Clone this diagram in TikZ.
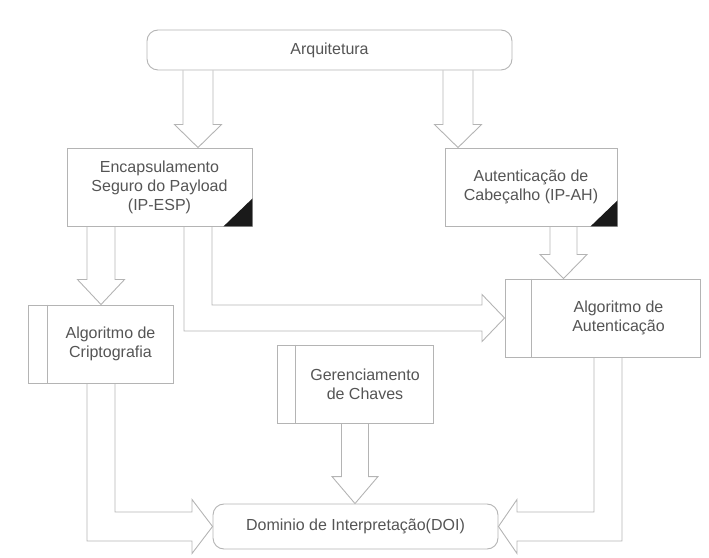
\documentclass[tikz,border=0pt]{standalone}
\usepackage{fontspec}
\setmainfont{Liberation Sans}
\usetikzlibrary{calc}
\definecolor{lineg}{HTML}{B4B4B4}
\definecolor{textg}{HTML}{555555}
\definecolor{cornerk}{HTML}{1A1A1A}
\newcommand\vblockarrow[6]{% src, dst, x centre, half shaft, half head, head length
  \draw[barrow] let \p1=(#1.south), \p2=(#2.north) in
    ({(#3-#4)*1pt},\y1) -- ({(#3-#4)*1pt},{\y2+#6*1pt}) -- ({(#3-#5)*1pt},{\y2+#6*1pt})
    -- ({#3*1pt},\y2) -- ({(#3+#5)*1pt},{\y2+#6*1pt}) -- ({(#3+#4)*1pt},{\y2+#6*1pt})
    -- ({(#3+#4)*1pt},\y1);}
\begin{document}
\begin{tikzpicture}[x=1pt,y=1pt,
  box/.style={draw=lineg,line width=0.9pt,fill=white,inner sep=0pt},
  rbox/.style={box,rounded corners=11pt},
  txt/.style={text=textg,font=\fontsize{16}{19}\selectfont,align=center,inner sep=0pt},
  barrow/.style={draw=lineg,line width=0.9pt,line join=miter}]
\useasboundingbox (0,0) rectangle (709,557);
% boxes
\node[rbox,minimum width=365pt,minimum height=40pt] (arq) at (329.5,507) {};
\node[txt] (arqt) at (arq.center) {Arquitetura};
\node[box,minimum width=185pt,minimum height=78pt] (enc) at (159.5,370) {};
\node[txt] (enct) at (enc.center) {Encapsulamento\\Seguro do Payload\\(IP-ESP)};
\node[box,minimum width=172pt,minimum height=78pt] (ah) at (531,370) {};
\node[txt] (aht) at (ah.center) {Autenticação de\\Cabeçalho (IP-AH)};
\node[box,minimum width=145pt,minimum height=78pt] (cri) at (100.5,213) {};
\node[txt] (crit) at ([xshift=10pt]cri.center) {Algoritmo de\\Criptografia};
\node[box,minimum width=195pt,minimum height=78pt] (alg) at (602.5,239) {};
\node[txt] (algt) at ([xshift=16pt]alg.center) {Algoritmo de\\Autenticação};
\node[box,minimum width=156pt,minimum height=78pt] (ger) at (355,173) {};
\node[txt] (gert) at ([xshift=10pt]ger.center) {Gerenciamento\\de Chaves};
\node[rbox,minimum width=285pt,minimum height=45pt] (doi) at (355.5,30.5) {};
\node[txt] (doit) at (doi.center) {Dominio de Interpretação(DOI)};
% inner lines
\draw[barrow] ([xshift=20pt]cri.north west) -- ([xshift=20pt]cri.south west);
\draw[barrow] ([xshift=27pt]alg.north west) -- ([xshift=27pt]alg.south west);
\draw[barrow] ([xshift=19pt]ger.north west) -- ([xshift=19pt]ger.south west);
% corner triangles
\fill[cornerk] (enc.south east) -- ++(0,28) -- ++(-29,-28) -- cycle;
\fill[cornerk] (ah.south east) -- ++(0,26) -- ++(-27,-26) -- cycle;
% straight block arrows
\vblockarrow{arq}{enc}{198}{15}{23.5}{23}
\vblockarrow{arq}{ah}{458}{15}{23.5}{23}
\vblockarrow{enc}{cri}{101}{14}{23.5}{25}
\vblockarrow{ah}{alg}{563.5}{13.5}{23.5}{24}
\vblockarrow{ger}{doi}{355}{13.5}{23}{27}
% bent block arrows
\draw[barrow] let \p1=(enc.south), \p2=(alg.west) in
  (184pt,\y1) -- (184pt,{\y2-13pt}) -- (482pt,{\y2-13pt}) -- (482pt,{\y2-23.5pt})
  -- (\x2,\y2) -- (482pt,{\y2+23.5pt}) -- (482pt,{\y2+13pt}) -- (212pt,{\y2+13pt}) -- (212pt,\y1);
\draw[barrow] let \p1=(cri.south), \p2=(doi.west) in
  (87pt,\y1) -- (87pt,{\y2-14.5pt}) -- (192pt,{\y2-14.5pt}) -- (192pt,{\y2-27pt})
  -- (\x2,\y2) -- (192pt,{\y2+27pt}) -- (192pt,{\y2+14.5pt}) -- (115pt,{\y2+14.5pt}) -- (115pt,\y1);
\draw[barrow] let \p1=(alg.south), \p2=(doi.east) in
  (622pt,\y1) -- (622pt,{\y2-14.5pt}) -- (517pt,{\y2-14.5pt}) -- (517pt,{\y2-27pt})
  -- (\x2,\y2) -- (517pt,{\y2+27pt}) -- (517pt,{\y2+14.5pt}) -- (594pt,{\y2+14.5pt}) -- (594pt,\y1);
\end{tikzpicture}
\end{document}
